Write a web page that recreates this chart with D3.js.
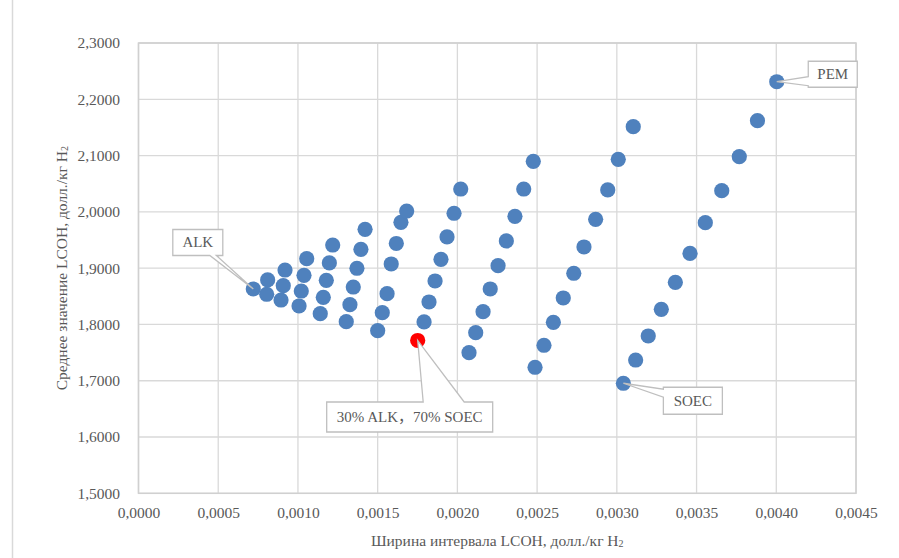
<!DOCTYPE html>
<html>
<head>
<meta charset="utf-8">
<script src="https://cdn.jsdelivr.net/npm/d3@7"></script>
<style>
  html, body { margin: 0; padding: 0; background: #ffffff; }
  svg { display: block; }
  svg text { font-family: "Liberation Serif", "Times New Roman", "Noto Sans CJK SC", serif; }
</style>
</head>
<body>
<svg id="chart" width="899" height="558"></svg>
<script>
// ALK share (%) of each blend family; within a family the PEM share rises 0%, 10%, ...
const alkShares = [100, 90, 80, 70, 60, 50, 40, 30, 20, 10, 0];

// Width of the LCOH interval, USD/kg H2 (one row per ALK share)
const intervalWidth = [
  [0.000720],
  [0.000804, 0.000810],
  [0.000894, 0.000908, 0.000919],
  [0.001007, 0.001021, 0.001038, 0.001055],
  [0.001140, 0.001159, 0.001178, 0.001197, 0.001218],
  [0.001303, 0.001326, 0.001347, 0.001370, 0.001395, 0.001421],
  [0.001500, 0.001529, 0.001559, 0.001585, 0.001617, 0.001646, 0.001682],
  [0.001751, 0.001791, 0.001822, 0.001860, 0.001897, 0.001935, 0.001979, 0.002021],
  [0.002073, 0.002115, 0.002161, 0.002206, 0.002255, 0.002307, 0.002361, 0.002416, 0.002476],
  [0.002487, 0.002543, 0.002602, 0.002664, 0.002730, 0.002794, 0.002867, 0.002943, 0.003009, 0.003103],
  [0.003041, 0.003118, 0.003197, 0.003279, 0.003367, 0.003459, 0.003555, 0.003658, 0.003768, 0.003882, 0.004003]
];

// Mean LCOH, USD/kg H2 (same layout)
const meanLcoh = [
  [1.8630],
  [1.8536, 1.8790],
  [1.8434, 1.8688, 1.8967],
  [1.8328, 1.8594, 1.8873, 1.9168],
  [1.8191, 1.8482, 1.8784, 1.9092, 1.9411],
  [1.8049, 1.8351, 1.8665, 1.8998, 1.9335, 1.9690],
  [1.7889, 1.8209, 1.8546, 1.9074, 1.9438, 1.9815, 2.0015],
  [1.7715, 1.8044, 1.8399, 1.8772, 1.9157, 1.9554, 1.9975, 2.0406],
  [1.7498, 1.7853, 1.8227, 1.8630, 1.9044, 1.9483, 1.9921, 2.0406, 2.0898],
  [1.7239, 1.7630, 1.8038, 1.8470, 1.8909, 1.9376, 1.9868, 2.0389, 2.0934, 2.1513],
  [1.6955, 1.7368, 1.7795, 1.8269, 1.8749, 1.9264, 1.9808, 2.0376, 2.0980, 2.1620, 2.2312]
];

// Highlighted blend (ALK share, PEM share)
const highlight = { alk: 30, pem: 0 };

const xTicks = [0, 0.0005, 0.0010, 0.0015, 0.0020, 0.0025, 0.0030, 0.0035, 0.0040, 0.0045];
const yTicks = [1.5, 1.6, 1.7, 1.8, 1.9, 2.0, 2.1, 2.2, 2.3];

// Callout labels: text and the blend they point at
const callouts = [
  { text: "ALK", alk: 100, pem: 0 },
  { text: "PEM", alk: 0, pem: 100 },
  { text: "SOEC", alk: 0, pem: 0 },
  { text: "30% ALK，70% SOEC", alk: 30, pem: 0 }
];

// ---------------------------------------------------------------
const points = [];
alkShares.forEach((alk, i) => {
  intervalWidth[i].forEach((w, j) => {
    points.push({ alk, pem: j * 10, w, m: meanLcoh[i][j] });
  });
});
const findPoint = (alk, pem) => points.find(p => p.alk === alk && p.pem === pem);

const svg = d3.select("#chart");
const plot = { left: 138.5, right: 856, top: 43, bottom: 493.3 };

const x = d3.scaleLinear().domain([0, 0.0045]).range([plot.left, plot.right]);
const y = d3.scaleLinear().domain([1.5, 2.3]).range([plot.bottom, plot.top]);

const locale = d3.formatLocale({ decimal: ",", thousands: " ", grouping: [3], currency: ["", ""] });
const fmt = locale.format(".4f");

const serif = '"Liberation Serif", "Times New Roman", "Noto Sans CJK SC", serif';
const gridColor = "#d9d9d9";
const textColor = "#595959";

// Outer chart edge
svg.append("line")
  .attr("x1", 12.5).attr("x2", 12.5).attr("y1", 0).attr("y2", 558)
  .attr("stroke", gridColor).attr("stroke-width", 1.5);

// Gridlines
const grid = svg.append("g");
grid.selectAll("line.gx").data(xTicks).join("line")
  .attr("x1", d => x(d)).attr("x2", d => x(d))
  .attr("y1", plot.top).attr("y2", plot.bottom)
  .attr("stroke", gridColor).attr("stroke-width", 1.3);
grid.selectAll("line.gy").data(yTicks).join("line")
  .attr("x1", plot.left).attr("x2", plot.right)
  .attr("y1", d => y(d)).attr("y2", d => y(d))
  .attr("stroke", gridColor).attr("stroke-width", 1.3);

// Axes
const xAxis = svg.append("g")
  .attr("transform", `translate(0,${plot.bottom})`)
  .call(d3.axisBottom(x).tickValues(xTicks).tickFormat(fmt).tickSize(0).tickPadding(0))
  .attr("font-family", serif);
xAxis.select(".domain").remove();
xAxis.selectAll("text")
  .attr("y", 25).attr("dy", null)
  .attr("fill", textColor)
  .attr("font-family", serif)
  .style("font-size", "15.5px");

const yAxis = svg.append("g")
  .attr("transform", `translate(${plot.left},0)`)
  .call(d3.axisLeft(y).tickValues(yTicks).tickFormat(fmt).tickSize(0).tickPadding(18.5))
  .attr("font-family", serif);
yAxis.select(".domain").remove();
yAxis.selectAll("text")
  .attr("fill", textColor)
  .attr("font-family", serif)
  .style("font-size", "15.5px");

// Plot frame
svg.append("rect")
  .attr("x", plot.left).attr("y", plot.top)
  .attr("width", plot.right - plot.left).attr("height", plot.bottom - plot.top)
  .attr("fill", "none").attr("stroke", "#d0d0d0").attr("stroke-width", 1.5);

// Axis titles
const xTitle = svg.append("text")
  .attr("x", (plot.left + plot.right) / 2).attr("y", 546)
  .attr("text-anchor", "middle").attr("fill", textColor)
  .attr("font-family", serif)
  .style("font-size", "15.5px");
xTitle.append("tspan").text("Ширина интервала LCOH, долл./кг H");
xTitle.append("tspan").attr("font-size", "10px").attr("dy", 1).text("2");

const yTitle = svg.append("text")
  .attr("transform", `translate(67,${(plot.top + plot.bottom) / 2}) rotate(-90)`)
  .attr("text-anchor", "middle").attr("fill", textColor)
  .attr("font-family", serif)
  .style("font-size", "15.5px");
yTitle.append("tspan").text("Среднее значение LCOH, долл./кг H");
yTitle.append("tspan").attr("font-size", "10px").attr("dy", 1).text("2");

// Points
svg.append("g").selectAll("circle").data(points).join("circle")
  .attr("cx", d => x(d.w)).attr("cy", d => y(d.m)).attr("r", 7.6)
  .attr("fill", d => (d.alk === highlight.alk && d.pem === highlight.pem) ? "#ff0000" : "#4f81bd");

// Callout shapes: a box with a wedge pointing to its blend
function calloutPath(px, py, b, wedge) {
  const pts = [];
  const { x0, y0, x1, y1 } = b;
  pts.push([x0, y0]);
  if (wedge.side === "top") { pts.push([wedge.a, y0], [px, py], [wedge.c, y0]); }
  pts.push([x1, y0], [x1, y1]);
  if (wedge.side === "bottom") { pts.push([wedge.c, y1], [px, py], [wedge.a, y1]); }
  pts.push([x0, y1]);
  if (wedge.side === "left") { pts.push([x0, wedge.c], [px, py], [x0, wedge.a]); }
  return "M" + pts.map(p => p.join(",")).join("L") + "Z";
}

const layout = {
  "ALK":  { box: [-80.5, -59.5, -30.5, -33.5], side: "bottom", a: -43.5, c: -37 },
  "PEM":  { box: [31.5, -20.5, 80.5, 5.5], side: "left", a: -5, c: 4 },
  "SOEC": { box: [40, 4, 99, 31], side: "left", a: 6, c: 14 },
  "30% ALK，70% SOEC": { box: [-91, 61.5, 75, 91.5], side: "top", a: 5.5, c: 46.5 }
};

const cg = svg.append("g");
callouts.forEach(c => {
  const p = findPoint(c.alk, c.pem);
  const px = x(p.w), py = y(p.m);
  const L = layout[c.text];
  const b = { x0: px + L.box[0], y0: py + L.box[1], x1: px + L.box[2], y1: py + L.box[3] };
  const off = (L.side === "top" || L.side === "bottom") ? px : py;
  cg.append("path")
    .attr("d", calloutPath(px, py, b, { side: L.side, a: off + L.a, c: off + L.c }))
    .attr("fill", "#ffffff").attr("stroke", "#bfbfbf").attr("stroke-width", 1.3)
    .attr("stroke-linejoin", "miter");
  cg.append("text")
    .attr("x", (b.x0 + b.x1) / 2).attr("y", (b.y0 + b.y1) / 2 + 5)
    .attr("text-anchor", "middle").attr("fill", textColor)
    .attr("font-family", serif)
    .style("font-size", "15px")
    .text(c.text);
});
</script>
</body>
</html>
